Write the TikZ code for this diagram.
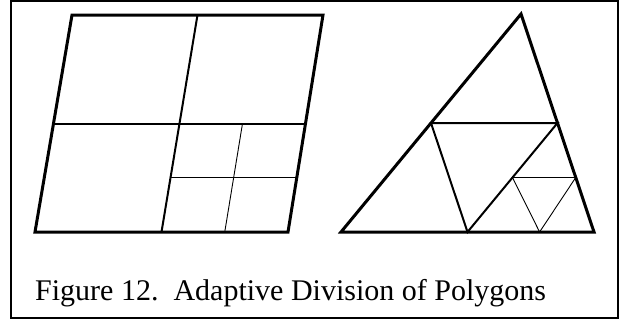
\documentclass[tikz,border=0pt]{standalone}
\usepackage{fontspec}
\setmainfont{Liberation Serif}
\usetikzlibrary{calc}
\begin{document}
\begin{tikzpicture}[x=1pt,y=-1pt,
    outline/.style={line width=3pt},
    split/.style={line width=2pt},
    fine/.style={line width=.9pt}]
\useasboundingbox (0,0) rectangle (621,322);
\draw[line width=1.5pt] (11,1) rectangle (618,318);
% parallelogram
\coordinate (p1) at (35,232);
\coordinate (p2) at (288,232);
\coordinate (p3) at (323,15);
\coordinate (p4) at (72,15);
\coordinate (pb) at ($(p1)!.5!(p2)$);
\coordinate (pt) at ($(p4)!.5!(p3)$);
\coordinate (pl) at ($(p1)!.5!(p4)$);
\coordinate (pr) at ($(p2)!.5!(p3)$);
\coordinate (pc) at ($(pb)!.5!(pt)$);
\draw[split] (pt) -- (pb);
\draw[split] (pl) -- (pr);
\draw[fine] ($(pc)!.5!(pr)$) -- ($(pb)!.5!(p2)$);
\draw[fine] ($(pb)!.5!(pc)$) -- ($(p2)!.5!(pr)$);
\draw[outline] (p1) -- (p2) -- (p3) -- (p4) -- cycle;
% triangle
\coordinate (t1) at (341,232);
\coordinate (t2) at (594,232);
\coordinate (t3) at (521,14);
\coordinate (m12) at ($(t1)!.5!(t2)$);
\coordinate (m23) at ($(t2)!.5!(t3)$);
\coordinate (m13) at ($(t1)!.5!(t3)$);
\draw[split] (m13) -- (m23) -- (m12) -- cycle;
\draw[fine] ($(m12)!.5!(m23)$) -- ($(t2)!.5!(m23)$) -- ($(m12)!.57!(t2)$) -- cycle;
\draw[outline] (t1) -- (t2) -- (t3) -- cycle;
\node[anchor=base west, inner sep=0pt, font=\fontsize{30}{34}\selectfont]
    (caption) at (35,300) {Figure 12.\ \ Adaptive Division of Polygons};
\end{tikzpicture}
\end{document}
